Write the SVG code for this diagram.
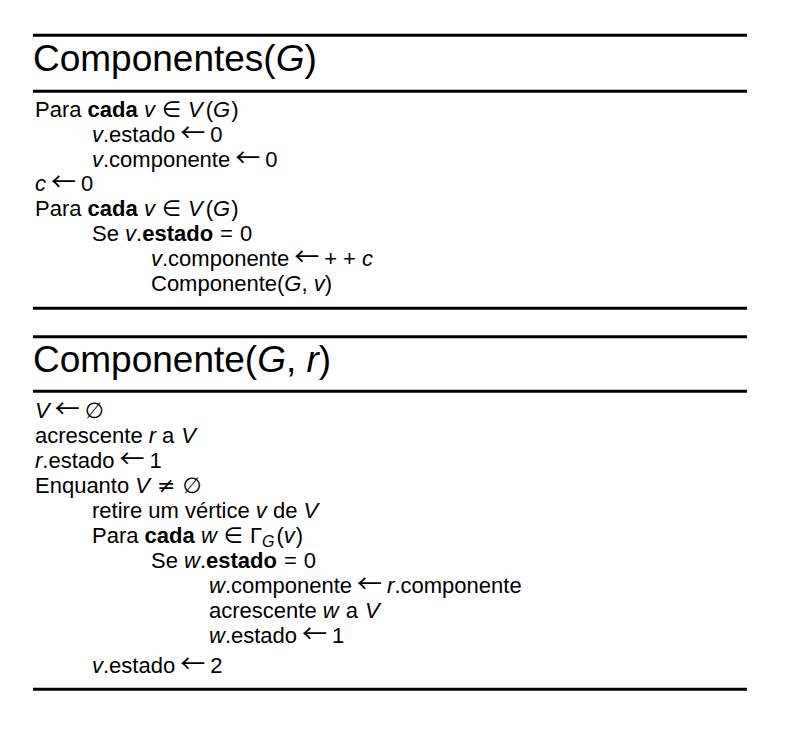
<svg xmlns="http://www.w3.org/2000/svg" width="806" height="733" viewBox="0 0 806 733">
<style>
text{font-family:"Liberation Sans","DejaVu Sans",sans-serif;font-size:22px;fill:#000}
.h{font-size:37px}
.i{font-style:italic}
.b{font-weight:bold}
.s{font-family:"DejaVu Sans",sans-serif;font-weight:normal;font-style:normal}
.a{font-family:"Noto Sans CJK JP","DejaVu Sans",sans-serif;font-size:25px}
.r{stroke:#000;stroke-width:3;fill:none}
</style>
<rect width="806" height="733" fill="#fff"/>
<g id="rules">
<line class="r" x1="33" y1="35.3" x2="747" y2="35.3"/>
<line class="r" x1="33" y1="91.3" x2="747" y2="91.3"/>
<line class="r" x1="33" y1="308.3" x2="747" y2="308.3"/>
<line class="r" x1="33" y1="336.7" x2="747" y2="336.7"/>
<line class="r" x1="33" y1="391.3" x2="747" y2="391.3"/>
<line class="r" x1="33" y1="689.3" x2="747" y2="689.3"/>
</g>
<g id="componentes">
<text class="h" x="33" y="71">Componentes(<tspan class="i">G</tspan>)</text>
<text x="35" y="117">Para <tspan class="b">cada</tspan> <tspan class="i">v</tspan><tspan class="s" dx="7">∈</tspan><tspan class="i" dx="7">V</tspan><tspan dx="3">(</tspan><tspan class="i">G</tspan><tspan dx="1">)</tspan></text>
<text x="92" y="141.8"><tspan class="i">v</tspan>.estado<tspan class="a" dx="5">←</tspan><tspan dx="5">0</tspan></text>
<text x="92" y="166.6"><tspan class="i">v</tspan>.componente<tspan class="a" dx="5">←</tspan><tspan dx="5">0</tspan></text>
<text x="35" y="191.4"><tspan class="i">c</tspan><tspan class="a" dx="5">←</tspan><tspan dx="5">0</tspan></text>
<text x="35" y="216.2">Para <tspan class="b">cada</tspan> <tspan class="i">v</tspan><tspan class="s" dx="7">∈</tspan><tspan class="i" dx="7">V</tspan><tspan dx="3">(</tspan><tspan class="i">G</tspan><tspan dx="1">)</tspan></text>
<text x="92" y="241">Se <tspan class="i">v</tspan>.<tspan class="b">estado</tspan><tspan dx="7">=</tspan><tspan dx="7">0</tspan></text>
<text x="151" y="265.8"><tspan class="i">v</tspan>.componente<tspan class="a" dx="5">←</tspan><tspan dx="5">+</tspan><tspan dx="6">+</tspan><tspan class="i" dx="6">c</tspan></text>
<text x="151" y="290.6">Componente(<tspan class="i">G</tspan>, <tspan class="i">v</tspan>)</text>
</g>
<g id="componente">
<text class="h" x="33" y="372">Componente(<tspan class="i">G</tspan>, <tspan class="i">r</tspan>)</text>
<text x="35" y="418"><tspan class="i">V</tspan><tspan class="a" dx="5">←</tspan><tspan class="s" dx="5">∅</tspan></text>
<text x="35" y="443">acrescente <tspan class="i">r</tspan><tspan dx="6">a</tspan><tspan class="i" dx="7">V</tspan></text>
<text x="35" y="468"><tspan class="i">r</tspan>.estado<tspan class="a" dx="5">←</tspan><tspan dx="5">1</tspan></text>
<text x="35" y="493">Enquanto <tspan class="i">V</tspan><tspan class="s" dx="7">≠</tspan><tspan class="s" dx="7">∅</tspan></text>
<text x="92" y="518">retire um vértice <tspan class="i">v</tspan> de <tspan class="i">V</tspan></text>
<text x="92" y="543">Para <tspan class="b">cada</tspan> <tspan class="i">w</tspan><tspan class="s" dx="7">∈</tspan><tspan dx="7">Γ</tspan><tspan class="i" font-size="16" dy="4">G</tspan><tspan dy="-4" dx="2">(</tspan><tspan class="i">v</tspan><tspan dx="1">)</tspan></text>
<text x="151" y="568">Se <tspan class="i">w</tspan>.<tspan class="b">estado</tspan><tspan dx="7">=</tspan><tspan dx="7">0</tspan></text>
<text x="209" y="593"><tspan class="i">w</tspan>.componente<tspan class="a" dx="5">←</tspan><tspan class="i" dx="5">r</tspan>.componente</text>
<text x="209" y="618">acrescente <tspan class="i">w</tspan><tspan dx="7">a</tspan><tspan class="i" dx="7">V</tspan></text>
<text x="209" y="643"><tspan class="i">w</tspan>.estado<tspan class="a" dx="5">←</tspan><tspan dx="5">1</tspan></text>
<text x="92" y="673"><tspan class="i">v</tspan>.estado<tspan class="a" dx="5">←</tspan><tspan dx="5">2</tspan></text>
</g>
</svg>
